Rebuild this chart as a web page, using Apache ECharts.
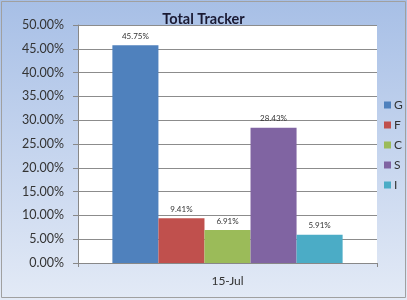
<!DOCTYPE html>
<html><head><meta charset="utf-8">
<script src="https://cdn.jsdelivr.net/npm/echarts@6/dist/echarts.min.js"></script>
<style>html,body{margin:0;padding:0;}#c{width:407px;height:300px;}</style>
</head><body><div id="c"></div>
<script>
var categories = ['15-Jul'];
var seriesNames = ['G', 'F', 'C', 'S', 'I'];
var seriesValues = [45.75, 9.41, 6.91, 28.43, 5.91];
var seriesColors = ['#4f81bd', '#c0504d', '#9bbb59', '#8064a2', '#4bacc6'];
var yTicks = { min: 0, max: 50, interval: 5 };

var chart = echarts.init(document.getElementById('c'), null, {renderer: 'canvas'});
var FONT = 'Lato';
var series = seriesNames.map(function (n, i) {
  return {
    name: n, type: 'bar', data: [seriesValues[i]],
    itemStyle: { color: seriesColors[i] },
    barGap: '0%', barCategoryGap: '23%',
    label: { show: true, position: 'top', distance: 5, fontSize: 8, fontFamily: FONT, color: '#333',
      formatter: function (p) { return p.value.toFixed(2) + '%'; } }
  };
});
chart.setOption({
  animation: false,
  backgroundColor: {
    type: 'linear', x: 0, y: 0, x2: 0, y2: 1,
    colorStops: [{ offset: 0, color: '#a7bfe6' }, { offset: 1, color: '#e3eaf6' }]
  },
  graphic: [{
    type: 'rect', shape: { x: 1.5, y: 1.5, width: 404, height: 296 },
    style: { fill: 'none', stroke: '#a0a0a0', lineWidth: 1 }, z: 100
  }],
  title: {
    text: 'Total Tracker', left: 'center', top: 7,
    textStyle: { fontFamily: FONT, fontSize: 14.5, fontWeight: 'bold', color: '#1a1a33' }
  },
  legend: {
    orient: 'vertical', left: 384, top: 99, padding: 0, itemWidth: 7, itemHeight: 7, itemGap: 8,
    icon: 'rect',
    textStyle: { fontFamily: FONT, fontSize: 12, color: '#333', padding: [0, 0, 0, -2] },
    data: seriesNames
  },
  grid: { left: 78, right: 30, top: 25, bottom: 37, show: true, backgroundColor: '#ffffff', borderWidth: 0 },
  xAxis: {
    type: 'category', data: categories,
    axisLine: { lineStyle: { color: '#888' } },
    axisTick: { show: true, length: 4, lineStyle: { color: '#888' } },
    axisLabel: { fontFamily: FONT, fontSize: 12, color: '#333', margin: 12 }
  },
  yAxis: {
    type: 'value', min: yTicks.min, max: yTicks.max, interval: yTicks.interval,
    axisLine: { show: true, lineStyle: { color: '#888' } },
    axisTick: { show: true, length: 5, lineStyle: { color: '#888' } },
    splitLine: { lineStyle: { color: '#8c8c8c' } },
    axisLabel: { fontFamily: FONT, fontSize: 12.5, color: '#333', margin: 14,
      formatter: function (v) { return v.toFixed(2) + '%'; } }
  },
  series: series
});
</script></body></html>
